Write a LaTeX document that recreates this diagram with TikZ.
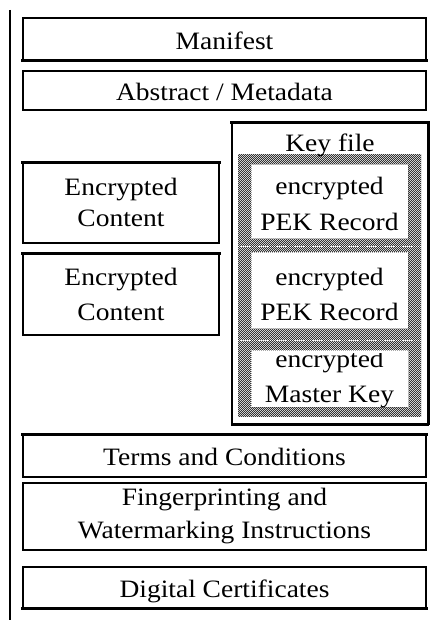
\documentclass[tikz,border=0pt]{standalone}
\usepackage{fontspec}
\setmainfont{Liberation Serif}[FakeStretch=1.1]
\usetikzlibrary{patterns}
% a fine one-point checker for the key file background
\pgfdeclarepatternformonly{finecheck}{\pgfqpoint{-.05pt}{-.05pt}}{\pgfqpoint{2.05pt}{2.05pt}}{\pgfqpoint{2pt}{2pt}}{%
  \pgfpathrectangle{\pgfqpoint{0pt}{0pt}}{\pgfqpoint{1.05pt}{1.05pt}}%
  \pgfpathrectangle{\pgfqpoint{1pt}{1pt}}{\pgfqpoint{1.05pt}{1.05pt}}%
  \pgfusepath{fill}}
\begin{document}
\begin{tikzpicture}[x=1pt,y=-1pt,
  panel/.style={draw, line width=1.3pt, fill=white},
  cell/.style={draw=gray!70, densely dotted, line width=1pt, fill=white},
  lbl/.style={anchor=base, inner sep=0pt, font=\fontsize{25}{30}\selectfont},
  heavy/.style={line width=3pt, line cap=rect},
]
\useasboundingbox (0,0) rectangle (431,620);

% left rule
\draw[line width=1.3pt] (10,10) -- (10,620);

% full-width panels
\node[panel, minimum width=403pt, minimum height=42pt] (man) at (224.5,39) {};
\node[panel, minimum width=403pt, minimum height=39pt] (abs) at (224.5,90.5) {};
\node[panel, minimum width=403pt, minimum height=42pt] (terms) at (224.5,456) {};
\node[panel, minimum width=403pt, minimum height=67pt] (fing) at (224.5,516.5) {};
\node[panel, minimum width=403pt, minimum height=41pt] (cert) at (224.5,587.5) {};
\draw[heavy] (man.south west) -- (man.south east);
\draw[heavy] (terms.north west) -- (terms.north east);
\draw[heavy] (cert.south west) -- (cert.south east);

% encrypted content panels
\node[panel, minimum width=196pt, minimum height=80pt] (enc1) at (121,203) {};
\node[panel, minimum width=196pt, minimum height=81pt] (enc2) at (121,294.5) {};
\draw[heavy] (enc1.north west) -- (enc1.north east);
\draw[heavy] (enc2.north west) -- (enc2.north east);

% key file
\node[panel, minimum width=196pt, minimum height=301pt] (key) at (330,273.5) {};
\draw[heavy] (key.north west) -- (key.north east);
\draw[line width=2.2pt] (key.south west) -- (key.south east);
\draw[line width=2pt] (key.north east) -- (key.south east);
\node[minimum width=183pt, minimum height=261pt, inner sep=0pt, fill=gray!35,
      pattern=finecheck, pattern color=black!80] (hatch) at (329.5,285.5) {};
\draw[white, densely dotted, line width=0.8pt] (hatch.west |- 0,246) -- (hatch.east |- 0,246);
\draw[white, densely dotted, line width=0.8pt] (hatch.west |- 0,340) -- (hatch.east |- 0,340);
\node[cell, minimum width=157pt, minimum height=73pt] (pek1) at (329.5,201.5) {};
\node[cell, minimum width=157pt, minimum height=76pt] (pek2) at (329.5,290) {};
\node[cell, minimum width=157pt, minimum height=57pt] (mk) at (329.5,378.5) {};

% labels
\node[lbl] (tman) at (224.5,50) {Manifest};
\node[lbl] (tabs) at (224.5,101) {Abstract / Metadata};
\node[lbl] (tkey) at (330,152) {Key file};
\node[lbl] (tenc1a) at (121,196) {Encrypted};
\node[lbl] (tenc1b) at (121,226) {Content};
\node[lbl] (tenc2a) at (121,285) {Encrypted};
\node[lbl] (tenc2b) at (121,320) {Content};
\node[lbl] (tpek1a) at (329.5,195) {encrypted};
\node[lbl] (tpek1b) at (329.5,230) {PEK Record};
\node[lbl] (tpek2a) at (329.5,285) {encrypted};
\node[lbl] (tpek2b) at (329.5,320) {PEK Record};
\begin{scope}
  \clip (250,353) rectangle (409,407);
  \node[lbl] (tmka) at (329.5,367) {encrypted};
  \node[lbl] (tmkb) at (329.5,402) {Master Key};
\end{scope}
\node[lbl] (tterms) at (224.5,465) {Terms and Conditions};
\node[lbl] (tfinga) at (224.5,505) {Fingerprinting and};
\node[lbl] (tfingb) at (224.5,538) {Watermarking Instructions};
\node[lbl] (tcert) at (224.5,597) {Digital Certificates};
\end{tikzpicture}
\end{document}
